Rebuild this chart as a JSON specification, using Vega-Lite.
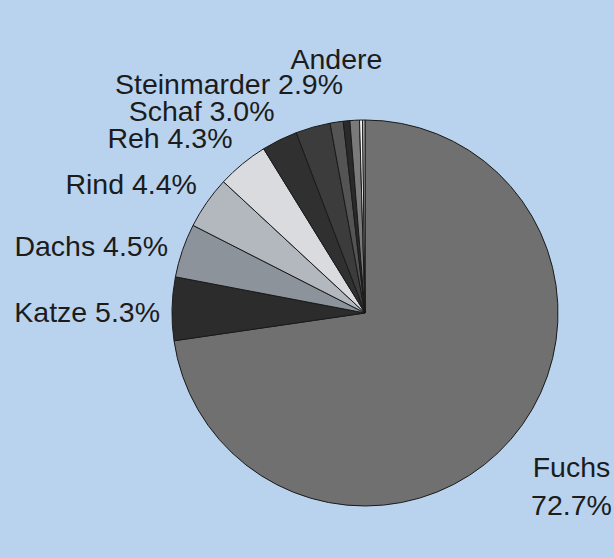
{
  "$schema": "https://vega.github.io/schema/vega-lite/v6.json",
  "width": 498,
  "height": 490,
  "autosize": "none",
  "padding": {"left": 116, "top": 68, "right": 0, "bottom": 0},
  "background": "#b9d3ee",
  "view": {"stroke": null},
  "config": {"text": {"font": "Liberation Sans", "fontSize": 28.5, "color": "#1c1c1c"}},
  "data": {
    "values": [
      {"ord": 1, "art": "Fuchs", "teil": "Fuchs", "anteil": 72.7, "label": "Fuchs\n72.7%"},
      {"ord": 2, "art": "Katze", "teil": "Katze", "anteil": 5.3, "label": "Katze 5.3%"},
      {"ord": 3, "art": "Dachs", "teil": "Dachs", "anteil": 4.5, "label": "Dachs 4.5%"},
      {"ord": 4, "art": "Rind", "teil": "Rind", "anteil": 4.4, "label": "Rind 4.4%"},
      {"ord": 5, "art": "Reh", "teil": "Reh", "anteil": 4.3, "label": "Reh 4.3%"},
      {"ord": 6, "art": "Schaf", "teil": "Schaf", "anteil": 3.0, "label": "Schaf 3.0%"},
      {"ord": 7, "art": "Steinmarder", "teil": "Steinmarder", "anteil": 2.9, "label": "Steinmarder 2.9%"},
      {"ord": 8, "art": "Andere", "teil": "Andere 1", "anteil": 1.1, "label": "Andere"},
      {"ord": 9, "art": "Andere", "teil": "Andere 2", "anteil": 0.55, "label": "Andere"},
      {"ord": 10, "art": "Andere", "teil": "Andere 3", "anteil": 0.8, "label": "Andere"},
      {"ord": 11, "art": "Andere", "teil": "Andere 4", "anteil": 0.25, "label": "Andere"},
      {"ord": 12, "art": "Andere", "teil": "Andere 5", "anteil": 0.2, "label": "Andere"}
    ]
  },
  "transform": [
    {"stack": "anteil", "groupby": [], "sort": [{"field": "ord", "order": "ascending"}], "as": ["s0", "s1"]},
    {"calculate": "(datum.s0 + datum.s1) / 2", "as": "mid"}
  ],
  "layer": [
    {
      "mark": {"type": "arc", "outerRadius": 193, "stroke": "#1a1a1a", "strokeWidth": 1},
      "encoding": {
        "theta": {"field": "s0", "type": "quantitative", "scale": {"domain": [0, 100]}},
        "theta2": {"field": "s1"},
        "color": {
          "field": "teil",
          "type": "nominal",
          "legend": null,
          "scale": {
            "domain": ["Fuchs", "Katze", "Dachs", "Rind", "Reh", "Schaf", "Steinmarder", "Andere 1", "Andere 2", "Andere 3", "Andere 4", "Andere 5"],
            "range": ["#707070", "#2c2c2c", "#8d939b", "#b3b8bf", "#d9dbde", "#303030", "#3c3c3c", "#545454", "#2a2a2a", "#7a7a7a", "#f2f2f2", "#bdbdbd"]
          }
        }
      }
    },
    {
      "transform": [{"filter": {"field": "art", "equal": "Katze"}}],
      "mark": {"type": "text", "radius": 205, "align": "right", "baseline": "middle", "dy": 5},
      "encoding": {
        "theta": {"field": "mid", "type": "quantitative", "scale": {"domain": [0, 100]}},
        "text": {"field": "label"}
      }
    },
    {
      "transform": [{"filter": {"field": "art", "equal": "Dachs"}}],
      "mark": {"type": "text", "radius": 205, "align": "right", "baseline": "middle", "dx": -3},
      "encoding": {
        "theta": {"field": "mid", "type": "quantitative", "scale": {"domain": [0, 100]}},
        "text": {"field": "label"}
      }
    },
    {
      "transform": [{"filter": {"field": "art", "equal": "Rind"}}],
      "mark": {"type": "text", "radius": 205, "align": "right", "baseline": "middle", "dy": -11},
      "encoding": {
        "theta": {"field": "mid", "type": "quantitative", "scale": {"domain": [0, 100]}},
        "text": {"field": "label"}
      }
    },
    {
      "transform": [{"filter": {"field": "art", "oneOf": ["Reh", "Schaf"]}}],
      "mark": {"type": "text", "radius": 218, "align": "right", "baseline": "middle", "dx": 6, "dy": -6},
      "encoding": {
        "theta": {"field": "mid", "type": "quantitative", "scale": {"domain": [0, 100]}},
        "text": {"field": "label"}
      }
    },
    {
      "transform": [{"filter": {"field": "art", "equal": "Steinmarder"}}],
      "mark": {"type": "text", "radius": 222, "align": "right", "baseline": "middle", "dx": 38, "dy": -14},
      "encoding": {
        "theta": {"field": "mid", "type": "quantitative", "scale": {"domain": [0, 100]}},
        "text": {"field": "label"}
      }
    },
    {
      "transform": [{"filter": {"field": "teil", "equal": "Andere 3"}}],
      "mark": {"type": "text", "radius": 254, "align": "center", "baseline": "middle", "dx": -15, "dy": 1},
      "encoding": {
        "theta": {"field": "mid", "type": "quantitative", "scale": {"domain": [0, 100]}},
        "text": {"field": "label"}
      }
    },
    {
      "transform": [{"filter": {"field": "art", "equal": "Fuchs"}}],
      "mark": {"type": "text", "radius": 269, "align": "center", "baseline": "middle", "lineBreak": "\n", "lineHeight": 38, "dx": 3, "dy": -21},
      "encoding": {
        "theta": {"field": "mid", "type": "quantitative", "scale": {"domain": [0, 100]}},
        "text": {"field": "label"}
      }
    }
  ]
}
